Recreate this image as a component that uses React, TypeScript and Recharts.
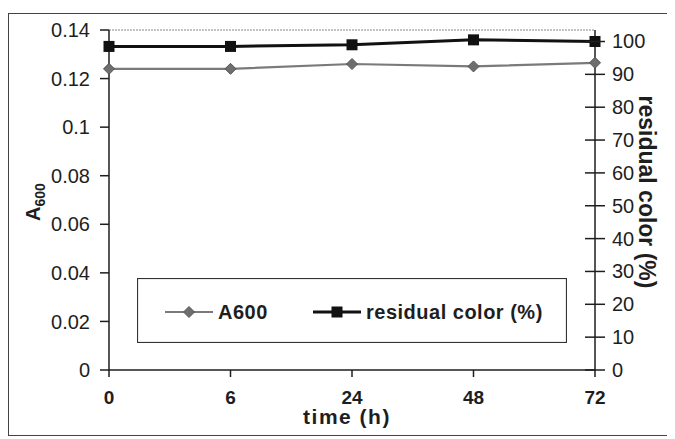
import { LineChart, Line, XAxis, YAxis, ReferenceLine, Legend, Label } from "recharts";

const times = ["0", "6", "24", "48", "72"];
const a600 = [0.124, 0.124, 0.126, 0.125, 0.1265];
const residualColor = [98.5, 98.5, 99, 100.5, 100];
const leftTicks = [0, 0.02, 0.04, 0.06, 0.08, 0.1, 0.12, 0.14];
const rightTicks = [0, 10, 20, 30, 40, 50, 60, 70, 80, 90, 100];

const data = times.map((t, i) => ({ time: t, a600: a600[i], residual: residualColor[i] }));

const FONT = "'Liberation Sans', Arial, sans-serif";
const INK = "#1e1e1e";
const GREY = "#7a7a7a";

const diamond = (cx: number, cy: number, r: number) =>
  `M${cx},${cy - r}L${cx + r},${cy}L${cx},${cy + r}L${cx - r},${cy}Z`;

const DiamondDot = (props: any) => {
  const { cx, cy } = props;
  return <path d={diamond(cx, cy, 5.5)} fill="#6e6e6e" stroke="#555" strokeWidth={1} />;
};

const SquareDot = (props: any) => {
  const { cx, cy } = props;
  return <rect x={cx - 5.5} y={cy - 5.5} width={11} height={11} fill="#111" />;
};

// right axis ticks cross the axis line in the original
const RightTick = (props: any) => {
  const { x, y, payload } = props;
  const ax = x - 17;
  return (
    <g>
      <line x1={ax - 10} x2={ax + 10} y1={y} y2={y} stroke={INK} strokeWidth={1.5} />
      <text x={x} y={y} dy="0.35em" fontSize={20} fill={INK} fontFamily={FONT}>
        {payload.value}
      </text>
    </g>
  );
};

const LegendBox = (props: any) => {
  const items = props.payload || [];
  const slots = [28, 176];
  return (
    <svg width={430} height={65} style={{ display: "block" }}>
      <rect x={0.5} y={0.5} width={429} height={64} fill="#fff" stroke="#333" strokeWidth={1.2} />
      {items.map((it: any, i: number) => {
        const x0 = slots[i];
        const isA = it.dataKey === "a600";
        return (
          <g key={it.value}>
            <line x1={x0} x2={x0 + 48} y1={34} y2={34} stroke={isA ? GREY : "#111"} strokeWidth={isA ? 2 : 3} />
            {isA ? (
              <path d={diamond(x0 + 24, 34, 5.5)} fill="#6e6e6e" stroke="#555" />
            ) : (
              <rect x={x0 + 18.5} y={28.5} width={11} height={11} fill="#111" />
            )}
            <text
              x={x0 + 53}
              y={34}
              dy="0.35em"
              fontSize={20}
              fontWeight="bold"
              letterSpacing={0.5}
              fill={INK}
              fontFamily={FONT}
            >
              {it.value}
            </text>
          </g>
        );
      })}
    </svg>
  );
};

export default function App() {
  return (
    <div style={{ position: "relative", width: 667, height: 431, background: "#fff" }}>
      <div
        style={{
          position: "absolute",
          left: 0,
          top: 5,
          width: 662,
          height: 423,
          border: "1px solid #444",
          boxSizing: "border-box",
        }}
      />
      <LineChart
        width={667}
        height={431}
        data={data}
        margin={{ top: 22, right: 20, bottom: 29, left: 41 }}
        style={{ position: "absolute", left: 0, top: 0 }}
      >
        <XAxis
          dataKey="time"
          type="category"
          padding={{ left: 0, right: 0 }}
          height={40}
          tickSize={7}
          tickMargin={14}
          axisLine={{ stroke: INK, strokeWidth: 1.5 }}
          tickLine={{ stroke: INK, strokeWidth: 1.5 }}
          tick={{ fontSize: 19, fontWeight: "bold", fill: INK, fontFamily: FONT }}
          interval={0}
        >
          <Label
            content={(p: any) => {
              const vb = p.viewBox;
              return (
                <text
                  x={vb.x + vb.width / 2 - 5}
                  y={vb.y + 54}
                  textAnchor="middle"
                  fontSize={21}
                  fontWeight="bold"
                  letterSpacing={1.5}
                  fill={INK}
                  fontFamily={FONT}
                >
                  time (h)
                </text>
              );
            }}
          />
        </XAxis>
        <YAxis
          yAxisId="left"
          orientation="left"
          width={60}
          domain={[0, 0.14]}
          ticks={leftTicks}
          interval={0}
          tickSize={9}
          tickMargin={10}
          axisLine={{ stroke: INK, strokeWidth: 1.5 }}
          tickLine={{ stroke: INK, strokeWidth: 1.5 }}
          tick={{ fontSize: 20, fill: INK, fontFamily: FONT }}
        >
          <Label
            content={() => (
              <text
                x={25}
                y={194}
                transform="rotate(-90, 25, 194)"
                textAnchor="middle"
                dy="0.35em"
                fontSize={20}
                fontWeight="bold"
                fill={INK}
                fontFamily={FONT}
              >
                A
                <tspan fontSize={14} dy={5}>
                  600
                </tspan>
              </text>
            )}
          />
        </YAxis>
        <YAxis
          yAxisId="right"
          orientation="right"
          width={60}
          domain={[0, 103.5]}
          ticks={rightTicks}
          interval={0}
          tickSize={10}
          tickMargin={7}
          axisLine={{ stroke: INK, strokeWidth: 1.5 }}
          tickLine={false}
          tick={<RightTick />}
        >
          <Label
            content={() => (
              <text
                x={639}
                y={184}
                transform="rotate(90, 639, 184)"
                textAnchor="middle"
                dy="0.35em"
                fontSize={23}
                fontWeight="bold"
                fill={INK}
                fontFamily={FONT}
              >
                residual color (%)
              </text>
            )}
          />
        </YAxis>
        <ReferenceLine yAxisId="left" y={0.14} stroke="#888" strokeWidth={1.2} strokeDasharray="2 1" />
        <Line
          yAxisId="left"
          dataKey="a600"
          name="A600"
          stroke={GREY}
          strokeWidth={2.2}
          dot={<DiamondDot />}
          isAnimationActive={false}
        />
        <Line
          yAxisId="right"
          dataKey="residual"
          name="residual color (%)"
          stroke="#111"
          strokeWidth={3}
          dot={<SquareDot />}
          isAnimationActive={false}
        />
        <Legend
          layout="vertical"
          align="center"
          verticalAlign="middle"
          content={<LegendBox />}
          wrapperStyle={{ position: "absolute", left: 129, top: 270, width: 430, height: 65 }}
        />
      </LineChart>
    </div>
  );
}
